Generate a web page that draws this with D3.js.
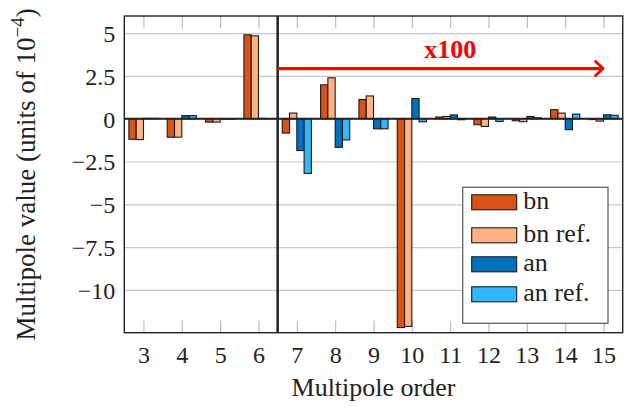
<!DOCTYPE html>
<html lang="en">
<head>
<meta charset="UTF-8">
<title>Multipole values</title>
<style>
  html, body { margin: 0; background: #fff; }
  svg text { font-family: "Liberation Serif", "Times New Roman", "DejaVu Serif", serif !important; fill: #222; }
</style>
</head>
<body>
<svg id="chart" width="631" height="407" viewBox="0 0 631 407"></svg>
<script src="https://d3js.org/d3.v7.min.js"></script>
<script>
// multipole orders (x categories)
const orders = [3, 4, 5, 6, 7, 8, 9, 10, 11, 12, 13, 14, 15];

// values in units of 1e-4 (orders 7..15 shown x100)
const bn    = [-1.20, -1.08, -0.20, 4.90, -0.84, 1.98, 1.12, -12.20, 0.10, -0.35, -0.12, 0.53, -0.05];
const bnRef = [-1.22, -1.08, -0.20, 4.84,  0.33, 2.39, 1.33, -12.13, 0.13, -0.45, -0.17, 0.33, -0.14];
const an    = [ 0.02,  0.18, -0.02, 0.02, -1.86, -1.67, -0.59,  1.18, 0.22,  0.10,  0.13, -0.64, 0.23];
const anRef = [ 0.02,  0.18, -0.03, 0.01, -3.20, -1.24, -0.59, -0.18, -0.06, -0.16, 0.05, 0.27, 0.20];

const seriesNames = ["bn", "bn ref.", "an", "an ref."];
const seriesColors = ["#D95319", "#FFB385", "#0072BD", "#33B5FF"];
const yTicks = [5, 2.5, 0, -2.5, -5, -7.5, -10];

const series = [bn, bnRef, an, anRef].map(function (vals, i) {
  return {name: seriesNames[i], color: seriesColors[i], values: vals};
});

const svg = d3.select("#chart"),
    margin = {top: 16, right: 8.3, bottom: 74.3, left: 124.3},
    width = +svg.attr("width") - margin.left - margin.right,
    height = +svg.attr("height") - margin.top - margin.bottom;

const x = d3.scaleLinear().domain([2.5, 15.5]).range([0, width]),
    y = d3.scaleLinear().domain([-12.5, 6.0]).range([height, 0]);

const barW = 0.19; // in order units
const serifFont = '"Liberation Serif", "Times New Roman", serif';

const g = svg.append("g")
    .attr("transform", "translate(" + margin.left + "," + margin.top + ")");

// horizontal grid
g.append("g")
    .call(d3.axisLeft(y).tickValues(yTicks).tickSize(-width).tickFormat(""))
    .call(function (s) {
      s.select(".domain").remove();
      s.selectAll("line").attr("stroke", "#c8c8c8").attr("stroke-width", 1.2);
    });

// x ticks, inside, top and bottom
g.append("g")
    .attr("transform", "translate(0," + height + ")")
    .call(d3.axisBottom(x).tickValues(orders).tickSize(-12).tickPadding(13))
    .call(function (s) {
      s.attr("font-family", serifFont).attr("font-size", 24);
      s.select(".domain").remove();
      s.selectAll("line").attr("stroke", "#bdbdbd").attr("stroke-width", 1.2);
      s.selectAll("text").style("font-family", serifFont).style("font-size", "24px").attr("fill", "#222");
    });
g.append("g")
    .call(d3.axisTop(x).tickValues(orders).tickSize(-12).tickFormat(""))
    .call(function (s) {
      s.select(".domain").remove();
      s.selectAll("line").attr("stroke", "#bdbdbd").attr("stroke-width", 1.2);
    });

// y tick labels
g.append("g")
    .call(d3.axisLeft(y).tickValues(yTicks).tickSize(0).tickPadding(9)
      .tickFormat(function (d) { return String(d).replace("-", "\u2212"); }))
    .call(function (s) {
      s.attr("font-family", serifFont).attr("font-size", 24);
      s.select(".domain").remove();
      s.selectAll("text")
          .style("font-family", serifFont).style("font-size", "24px")
          .attr("fill", "#222")
          .attr("dy", "0.35em");
    });

// bars
series.forEach(function (sr, i) {
  g.append("g")
    .selectAll("rect")
    .data(orders.map(function (o, k) { return {order: o, value: sr.values[k]}; }))
    .enter().append("rect")
      .attr("x", function (d) { return x(d.order + (i - 2) * barW); })
      .attr("width", x(barW) - x(0))
      .attr("y", function (d) { return y(Math.max(0, d.value)); })
      .attr("height", function (d) { return Math.abs(y(d.value) - y(0)); })
      .attr("fill", sr.color)
      .attr("stroke", "#1a1a1a")
      .attr("stroke-width", 1.1);
});

// zero line
g.append("line")
    .attr("x1", 0).attr("x2", width)
    .attr("y1", y(0)).attr("y2", y(0))
    .attr("stroke", "#222").attr("stroke-width", 2);

// separator between unscaled and x100 orders
g.append("line")
    .attr("x1", x(6.5)).attr("x2", x(6.5))
    .attr("y1", 0).attr("y2", height)
    .attr("stroke", "#222").attr("stroke-width", 2.5);

// frame
g.append("rect")
    .attr("width", width).attr("height", height)
    .attr("fill", "none").attr("stroke", "#222").attr("stroke-width", 1.4);

// x100 arrow
const arrowY = y(2.93);
g.append("line")
    .attr("x1", x(6.5)).attr("x2", x(15) - 1)
    .attr("y1", arrowY).attr("y2", arrowY)
    .attr("stroke", "#ff0000").attr("stroke-width", 3.2);
g.append("path")
    .attr("d", "M" + (x(15) - 8) + "," + (arrowY - 7) + "L" + (x(15) - 0.5) + "," + arrowY +
               "L" + (x(15) - 8) + "," + (arrowY + 7))
    .attr("fill", "none").attr("stroke", "#ff0000").attr("stroke-width", 2.8)
    .attr("stroke-linecap", "round").attr("stroke-linejoin", "round");
g.append("text")
    .attr("x", x(11)).attr("y", arrowY - 10.5)
    .attr("text-anchor", "middle")
    .style("font-family", serifFont).style("font-size", "26px").style("font-weight", "bold")
    .style("fill", "#ff0000")
    .text("x100");

// legend
const legend = svg.append("g").attr("transform", "translate(462.7,187.3)");
legend.append("rect")
    .attr("width", 145.3).attr("height", 136)
    .attr("fill", "#fff").attr("stroke", "#555").attr("stroke-width", 1.2);
const rowY = [15, 48, 77, 107];
series.forEach(function (sr, i) {
  legend.append("rect")
      .attr("x", 9).attr("y", rowY[i] - 7.5)
      .attr("width", 45).attr("height", 15)
      .attr("fill", sr.color).attr("stroke", "#1a1a1a").attr("stroke-width", 1.1);
  legend.append("text")
      .attr("x", 60.5).attr("y", rowY[i] + 7)
      .style("font-family", serifFont).style("font-size", "26px")
      .text(sr.name);
});

// axis titles
svg.append("text")
    .attr("x", margin.left + width / 2).attr("y", 396)
    .attr("text-anchor", "middle")
    .style("font-family", serifFont).style("font-size", "26px")
    .text("Multipole order");

const yl = svg.append("text")
    .attr("transform", "translate(35," + (margin.top + height / 2) + ") rotate(-90)")
    .attr("text-anchor", "middle")
    .style("font-family", serifFont).style("font-size", "27px");
yl.append("tspan").text("Multipole value (units of 10");
yl.append("tspan").style("font-size", "19px").attr("dy", -11).text("\u22124");
yl.append("tspan").attr("dy", 11).text(")");
</script>
</body>
</html>
